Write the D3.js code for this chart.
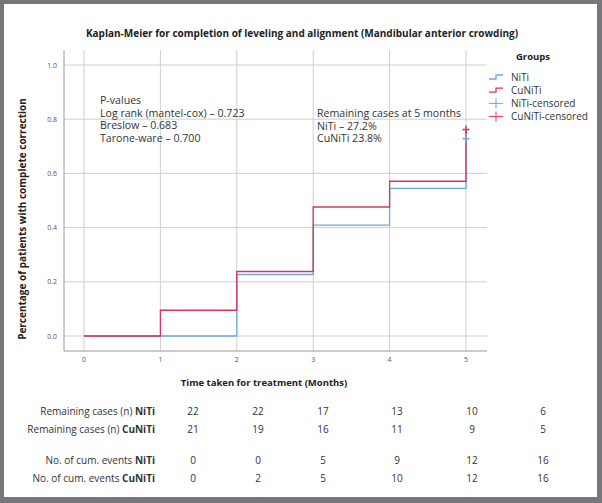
<!DOCTYPE html>
<html><head><meta charset="utf-8">
<script src="https://cdn.jsdelivr.net/npm/d3@7"></script>
<style>
html,body{margin:0;padding:0;background:#75777a;}
svg{display:block;font-family:"Open Sans","Noto Sans",sans-serif;}
</style></head>
<body><svg id="c" width="602" height="503"></svg>
<script>
const title = "Kaplan-Meier for completion of leveling and alignment (Mandibular anterior crowding)";
const xTicks = [0,1,2,3,4,5];
const yTicks = [0,0.2,0.4,0.6,0.8,1.0];
const nitiTimes = [0,1,2,3,4,5];
const nitiValues = [0,0,0.227,0.409,0.545,0.728];
const cuTimes = [0,1,2,3,4,5];
const cuValues = [0,0.095,0.238,0.476,0.571,0.762];
const censorTime = 5;
const groups = ["NiTi","CuNiTi","NiTi-censored","CuNiTi-censored"];
const pLines = ["P-values","Log rank (mantel-cox) \u2013 0.723","Breslow \u2013 0.683","Tarone-ware \u2013 0.700"];
const remLines = ["Remaining cases at 5 months","NiTi \u2013 27.2%","CuNiTi 23.8%"];
const tableLabels = [["Remaining cases (n) ","NiTi"],["Remaining cases (n)  ","CuNiTi"],["No. of cum. events ","NiTi"],["No. of cum. events ","CuNiTi"]];
const remNiti = [22,22,17,13,10,6];
const remCu = [21,19,16,11,9,5];
const evNiti = [0,0,5,9,12,16];
const evCu = [0,2,5,10,12,16];

const blue = "#6fa6e6", red = "#d9345a";
const svg = d3.select("#c");
svg.append("rect").attr("x",4).attr("y",4).attr("width",593).attr("height",493).attr("fill","#fff");

const x = d3.scaleLinear().domain([0,5]).range([84,466]);
const y = d3.scaleLinear().domain([0,1]).range([336,65]);
const L=64,R=487,T=50,B=351;

// grid
const g = svg.append("g");
g.selectAll(".hg").data(yTicks).join("line").attr("x1",L).attr("x2",R)
 .attr("y1",d=>y(d)).attr("y2",d=>y(d)).attr("stroke","#cfcfcf").attr("stroke-width",1);
g.selectAll(".vg").data(xTicks).join("line").attr("y1",T).attr("y2",B)
 .attr("x1",d=>x(d)).attr("x2",d=>x(d)).attr("stroke","#cfcfcf").attr("stroke-width",1);
// axes lines
svg.append("line").attr("x1",L).attr("x2",L).attr("y1",T).attr("y2",B).attr("stroke","#9a9a9a");
svg.append("line").attr("x1",L).attr("x2",R).attr("y1",B).attr("y2",B).attr("stroke","#9a9a9a");

// tick labels
svg.selectAll(".yt").data(yTicks).join("text").attr("x",57).attr("y",d=>y(d)+2.5)
 .attr("text-anchor","end").attr("font-size",7).attr("fill","#555").text(d3.format(".1f"));
svg.selectAll(".xt").data(xTicks).join("text").attr("x",d=>x(d)).attr("y",362)
 .attr("text-anchor","middle").attr("font-size",7).attr("fill","#555").text(d=>d);

// curves
const line = d3.line().x(d=>x(d[0])).y(d=>y(d[1])).curve(d3.curveStepAfter);
function pts(t,v){return t.map((d,i)=>[d,v[i]]);}
svg.append("path").attr("d",line(pts(nitiTimes,nitiValues))).attr("fill","none").attr("stroke",blue).attr("stroke-width",1.3);
svg.append("path").attr("d",line(pts(cuTimes,cuValues))).attr("fill","none").attr("stroke",red).attr("stroke-width",1.3);
// censor marks
function cross(cx,cy,col){
  svg.append("line").attr("x1",cx-3.5).attr("x2",cx+3.5).attr("y1",cy).attr("y2",cy).attr("stroke",col).attr("stroke-width",1.5);
  svg.append("line").attr("x1",cx).attr("x2",cx).attr("y1",cy-4).attr("y2",cy+4).attr("stroke",col).attr("stroke-width",1.5);
}
cross(x(censorTime),y(nitiValues[5]),blue);
cross(x(censorTime),y(cuValues[5]),red);

// title
svg.append("text").attr("x",302).attr("y",37).attr("text-anchor","middle").attr("font-size",10)
 .attr("font-weight","bold").attr("fill","#222").text(title);
// axis titles
svg.append("text").attr("transform","translate(26,219) rotate(-90)").attr("text-anchor","middle")
 .attr("font-size",10).attr("font-weight","bold").attr("fill","#222").text("Percentage of patients with complete correction");
svg.append("text").attr("x",264).attr("y",386).attr("text-anchor","middle").attr("font-size",9.5)
 .attr("font-weight","bold").attr("fill","#222").text("Time taken for treatment (Months)");

// annotations
svg.selectAll(".pl").data(pLines).join("text").attr("x",100).attr("y",(d,i)=>104+i*12.7)
 .attr("font-size",10.6).attr("fill","#333").text(d=>d);
svg.selectAll(".rl").data(remLines).join("text").attr("x",317).attr("y",(d,i)=>117+i*12.7)
 .attr("font-size",10.6).attr("fill","#333").text(d=>d);

// legend
svg.append("text").attr("x",533).attr("y",60).attr("text-anchor","middle").attr("font-size",9.5)
 .attr("font-weight","bold").attr("fill","#222").text("Groups");
const legCols=[blue,red,blue,red];
groups.forEach((gname,i)=>{
  const ly=77+i*13.2;
  if(i<2){
    svg.append("path").attr("d",`M489,${ly+2}H496V${ly-2}H503`).attr("fill","none").attr("stroke",legCols[i]).attr("stroke-width",1.3);
  } else {
    svg.append("line").attr("x1",489).attr("x2",503).attr("y1",ly).attr("y2",ly).attr("stroke",legCols[i]).attr("stroke-width",1);
    svg.append("line").attr("x1",496).attr("x2",496).attr("y1",ly-5).attr("y2",ly+5).attr("stroke",legCols[i]).attr("stroke-width",1);
  }
  svg.append("text").attr("x",511).attr("y",ly+3.5).attr("font-size",10).attr("fill","#333").text(gname);
});

// table
const cols=[193,258,323,397,472,543];
const rows=[remNiti,remCu,evNiti,evCu];
const rowY=[415,433,464,482];
rows.forEach((r,ri)=>{
  const t=svg.append("text").attr("x",155).attr("y",rowY[ri]).attr("text-anchor","end").attr("font-size",10).attr("fill","#333");
  t.append("tspan").text(tableLabels[ri][0]);
  t.append("tspan").attr("font-weight","bold").text(tableLabels[ri][1]);
  svg.selectAll(null).data(r).join("text").attr("x",(d,i)=>cols[i]).attr("y",rowY[ri])
   .attr("text-anchor","middle").attr("font-size",10).attr("fill","#333").text(d=>d);
});
</script></body></html>
